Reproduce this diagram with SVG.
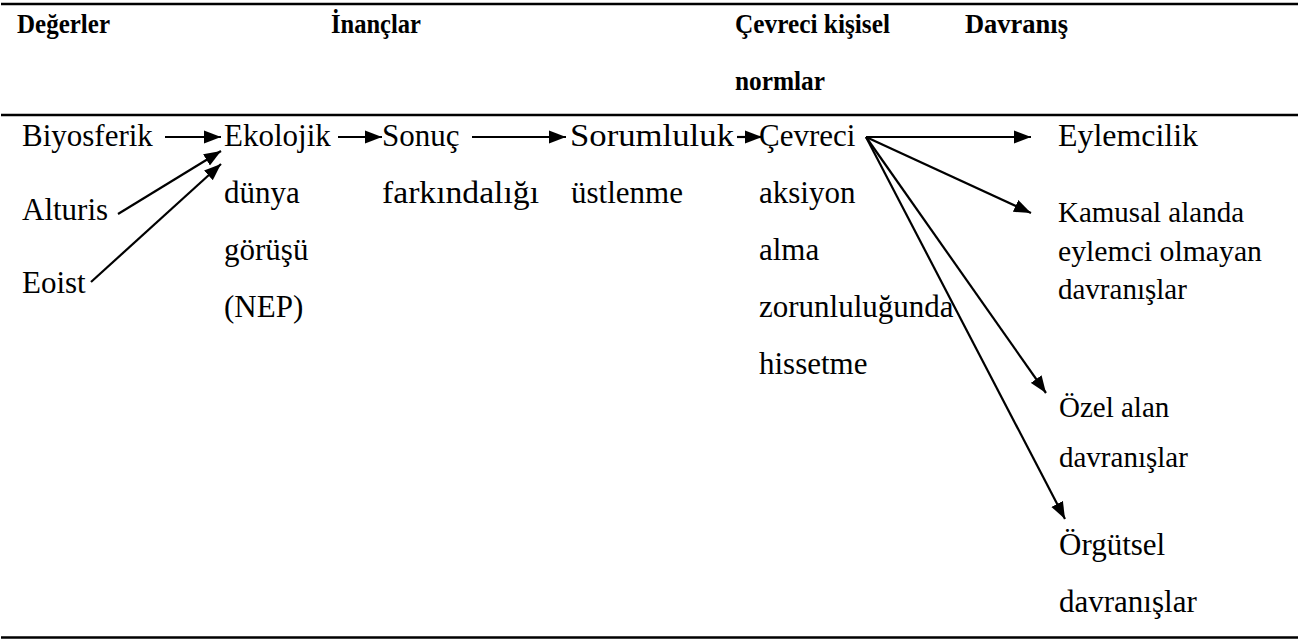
<svg xmlns="http://www.w3.org/2000/svg" width="1302" height="639" viewBox="0 0 1302 639">
<style>
.h{font-family:"Liberation Serif",serif;font-weight:bold;font-size:28px;fill:#000}
.t{font-family:"Liberation Serif",serif;font-size:31px;fill:#000}
.s{font-family:"Liberation Serif",serif;font-size:29px;fill:#000}
.rule{stroke:#000;stroke-width:2.5;fill:none}
.c{stroke:#000;stroke-width:2.2;fill:none;marker-end:url(#ah)}
</style>
<defs>
<marker id="ah" markerUnits="userSpaceOnUse" markerWidth="18" markerHeight="14" refX="17" refY="7" orient="auto">
<path d="M0,0.5 L17,7 L0,13.5 z" fill="#000"/>
</marker>
</defs>
<rect width="1302" height="639" fill="#fff"/>
<g id="rules">
<line class="rule" x1="1" y1="4" x2="1298" y2="4"/>
<line class="rule" x1="1" y1="115" x2="1298" y2="115"/>
<line class="rule" x1="1" y1="637.5" x2="1298" y2="637.5"/>
</g>
<g id="headers">
<text class="h" x="17" y="33" textLength="93" lengthAdjust="spacingAndGlyphs">Değerler</text>
<text class="h" x="331" y="33" textLength="90" lengthAdjust="spacingAndGlyphs">İnançlar</text>
<text class="h" x="735" y="33" textLength="155" lengthAdjust="spacingAndGlyphs">Çevreci kişisel</text>
<text class="h" x="735" y="90" textLength="90" lengthAdjust="spacingAndGlyphs">normlar</text>
<text class="h" x="965" y="33" textLength="103" lengthAdjust="spacingAndGlyphs">Davranış</text>
</g>
<g id="biyosferik"><text class="t" x="22" y="146">Biyosferik</text></g>
<g id="alturis"><text class="t" x="22" y="220">Alturis</text></g>
<g id="eoist"><text class="t" x="22" y="293">Eoist</text></g>
<g id="ekolojik">
<text class="t" x="224" y="146">Ekolojik</text>
<text class="t" x="224" y="203">dünya</text>
<text class="t" x="224" y="260">görüşü</text>
<text class="t" x="224" y="317">(NEP)</text>
</g>
<g id="sonuc">
<text class="t" x="382" y="146">Sonuç</text>
<text class="t" x="382" y="203" textLength="157" lengthAdjust="spacingAndGlyphs">farkındalığı</text>
</g>
<g id="sorumluluk">
<text class="t" x="570" y="146" textLength="164" lengthAdjust="spacingAndGlyphs">Sorumluluk</text>
<text class="t" x="571" y="203">üstlenme</text>
</g>
<g id="cevreci">
<text class="t" x="759" y="146">Çevreci</text>
<text class="t" x="759" y="203">aksiyon</text>
<text class="t" x="759" y="260">alma</text>
<text class="t" x="759" y="317">zorunluluğunda</text>
<text class="t" x="759" y="374">hissetme</text>
</g>
<g id="eylemcilik"><text class="t" x="1058" y="146" textLength="140" lengthAdjust="spacingAndGlyphs">Eylemcilik</text></g>
<g id="kamusal">
<text class="s" x="1058" y="222">Kamusal alanda</text>
<text class="s" x="1058" y="261" textLength="204" lengthAdjust="spacingAndGlyphs">eylemci olmayan</text>
<text class="s" x="1058" y="299">davranışlar</text>
</g>
<g id="ozel">
<text class="s" x="1059" y="417">Özel alan</text>
<text class="s" x="1059" y="467">davranışlar</text>
</g>
<g id="orgutsel">
<text class="t" x="1059" y="555">Örgütsel</text>
<text class="t" x="1059" y="612">davranışlar</text>
</g>
<g id="connectors">
<line class="c" x1="165" y1="137" x2="221" y2="137"/>
<line class="c" x1="118" y1="214" x2="221" y2="151"/>
<line class="c" x1="91" y1="282" x2="221" y2="164"/>
<line class="c" x1="338" y1="137" x2="382" y2="137"/>
<line class="c" x1="472" y1="137" x2="566" y2="137"/>
<line class="c" x1="737" y1="137" x2="762" y2="137"/>
<line class="c" x1="866" y1="137" x2="1031" y2="137"/>
<line class="c" x1="866" y1="137" x2="1031" y2="213"/>
<line class="c" x1="866" y1="137" x2="1046" y2="393"/>
<line class="c" x1="866" y1="137" x2="1065" y2="519"/>
</g>
</svg>
